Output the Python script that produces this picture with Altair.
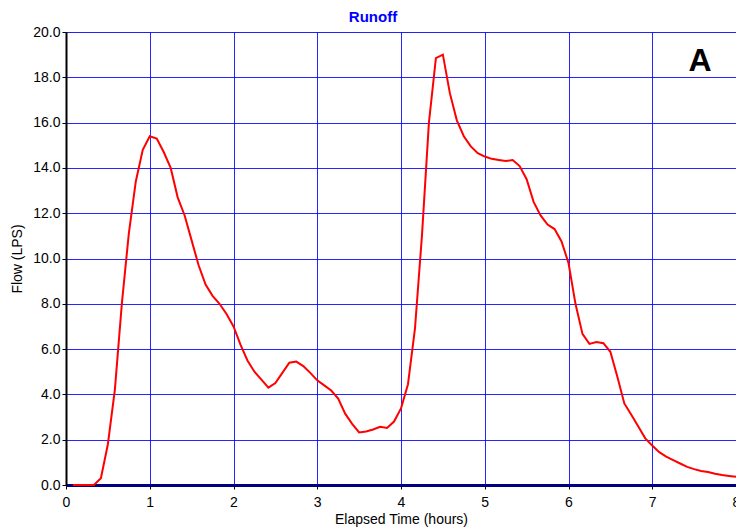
import altair as alt
import pandas as pd

# Runoff hydrograph sampled every 5 minutes (hours, litres per second)
time_hours = [k / 12 for k in range(1, 97)]
flow_lps = [
    0.0, 0.0, 0.0, 0.0, 0.3, 1.8, 4.2, 8.0, 11.1, 13.4, 14.8,
    15.4, 15.3, 14.7, 14.0, 12.7, 11.9, 10.8, 9.7, 8.85, 8.35, 8.0, 7.55,
    7.0, 6.2, 5.5, 5.0, 4.65, 4.3, 4.5, 4.95, 5.4, 5.45, 5.25, 4.95,
    4.62, 4.4, 4.17, 3.82, 3.15, 2.7, 2.32, 2.36, 2.45, 2.57, 2.52, 2.8,
    3.38, 4.45, 6.9, 11.0, 16.0, 18.85, 19.0, 17.3, 16.1, 15.4, 14.95, 14.65,
    14.5, 14.4, 14.35, 14.3, 14.35, 14.08, 13.5, 12.5, 11.9, 11.5, 11.3, 10.75,
    9.8, 8.0, 6.67, 6.23, 6.31, 6.26, 5.88, 4.78, 3.6, 3.1, 2.58, 2.06,
    1.74, 1.45, 1.25, 1.1, 0.95, 0.8, 0.7, 0.62, 0.57, 0.5, 0.44, 0.4,
    0.36,
]

x_ticks = [0, 1, 2, 3, 4, 5, 6, 7, 8]
y_ticks = [0, 2, 4, 6, 8, 10, 12, 14, 16, 18, 20]

panel_label = ["A"]
panel_pos_x = [7.57]
panel_pos_y = [18.7]

df = pd.DataFrame({"time": time_hours, "flow": flow_lps})
lab = pd.DataFrame({"label": panel_label, "x": panel_pos_x, "y": panel_pos_y})

FONT = "Liberation Sans"

x_enc = alt.X(
    "time:Q",
    scale=alt.Scale(domain=[0, 8], nice=False),
    axis=alt.Axis(
        title="Elapsed Time (hours)",
        values=x_ticks,
        format="d",
        grid=True,
        gridColor="#0000ff",
        gridOpacity=0.85,
        domainColor="#000080",
        domainWidth=3,
        tickColor="#000000",
        tickSize=4,
        labelFlush=False,
        labelFontSize=14,
        labelColor="#000000",
        labelFont=FONT,
        labelPadding=6,
        titleFont=FONT,
        titleFontSize=14,
        titleFontWeight="normal",
        titleColor="#000000",
        titlePadding=3,
    ),
)

y_enc = alt.Y(
    "flow:Q",
    scale=alt.Scale(domain=[0, 20], nice=False),
    axis=alt.Axis(
        title="Flow (LPS)",
        values=y_ticks,
        format=".1f",
        grid=True,
        gridColor="#0000ff",
        gridOpacity=0.85,
        domainColor="#000000",
        domainWidth=2,
        tickColor="#000000",
        tickSize=4,
        labelFlush=False,
        labelFontSize=14,
        labelColor="#000000",
        labelFont=FONT,
        labelPadding=2,
        titleFont=FONT,
        titleFontSize=14,
        titleFontWeight="normal",
        titleColor="#000000",
        titlePadding=8,
    ),
)

line = alt.Chart(df).mark_line(color="#ff0000", strokeWidth=2).encode(x=x_enc, y=y_enc)

letter = alt.Chart(lab).mark_text(
    font=FONT, fontSize=32, fontWeight="bold", color="#000000", baseline="middle", align="center"
).encode(x="x:Q", y="y:Q", text="label:N")

chart = (
    alt.layer(line, letter)
    .properties(
        width=670,
        height=453,
        title=alt.TitleParams(
            "Runoff", color="#0000ff", fontSize=15, fontWeight="bold", font=FONT,
            offset=0, dx=-28,
        ),
        autosize=alt.AutoSizeParams(type="none"),
        padding={"left": 66, "top": 32, "right": 0, "bottom": 43},
    )
    .configure_view(stroke="#3030c0", strokeWidth=1.5)
    .configure(background="#ffffff")
)

chart.save("out.html", embed_options={"renderer": "svg", "actions": False})
